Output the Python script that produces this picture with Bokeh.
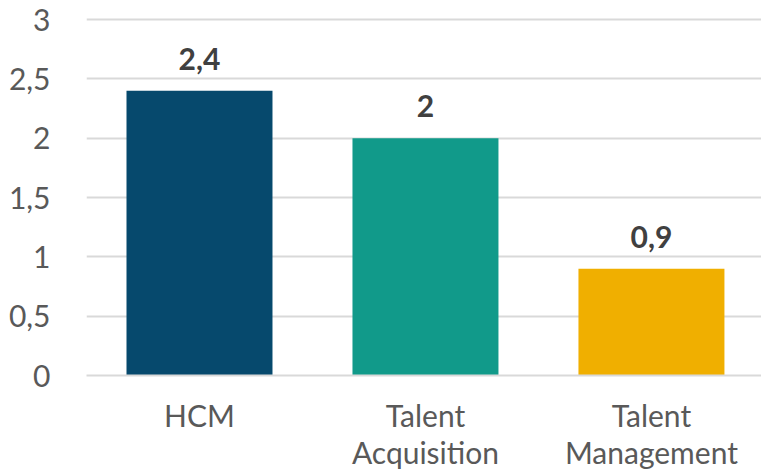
from bokeh.plotting import figure
from bokeh.models import ColumnDataSource, FixedTicker, Range1d
from bokeh.embed import file_html
from bokeh.resources import INLINE
from bokeh.core.properties import value

categories = ["HCM", "Talent\nAcquisition", "Talent\nManagement"]
values = [2.4, 2.0, 0.9]
labels = ["2,4", "2", "0,9"]
colors = ["#06496D", "#119A8A", "#F0AF00"]
y_ticks = [0, 0.5, 1, 1.5, 2, 2.5, 3]
y_tick_labels = ["0", "0,5", "1", "1,5", "2", "2,5", "3"]

xs = list(range(len(categories)))
src = ColumnDataSource(dict(x=xs, top=values, label=labels, color=colors))

p = figure(width=761, height=473, output_backend="svg", toolbar_location=None,
           x_range=Range1d(-0.5, 2.487), y_range=Range1d(0, 3.076),
           min_border_left=86, min_border_right=0, min_border_top=10, min_border_bottom=98)
p.outline_line_color = None
p.background_fill_color = "white"
p.border_fill_color = "white"

p.vbar(x="x", top="top", width=0.646, bottom=0, fill_color="color", line_color=None, source=src)
p.text(x="x", y="top", text="label", source=src, text_align="center", text_baseline="alphabetic",
       y_offset=-32, text_font=value("Lato"), text_font_style="bold",
       text_font_size="30px", text_color="#404040")

p.xgrid.grid_line_color = None
p.ygrid.grid_line_color = "#D9D9D9"
p.ygrid.grid_line_width = 2
p.ygrid.ticker = FixedTicker(ticks=y_ticks)

p.yaxis.ticker = FixedTicker(ticks=y_ticks)
p.yaxis.major_label_overrides = {t: l for t, l in zip(y_ticks, y_tick_labels)}
p.yaxis.axis_line_color = None
p.yaxis.major_tick_line_color = None
p.yaxis.minor_tick_line_color = None
p.yaxis.major_label_standoff = 30
p.yaxis.major_label_text_font = "Lato"
p.yaxis.major_label_text_font_size = "30px"
p.yaxis.major_label_text_color = "#595959"

p.xaxis.ticker = FixedTicker(ticks=xs)
p.xaxis.major_label_overrides = {x: c for x, c in zip(xs, categories)}
p.xaxis.axis_line_color = "#D9D9D9"
p.xaxis.axis_line_width = 2
p.xaxis.major_tick_line_color = None
p.xaxis.minor_tick_line_color = None
p.xaxis.major_label_standoff = 15
p.xaxis.major_label_text_font = "Lato"
p.xaxis.major_label_text_font_size = "30px"
p.xaxis.major_label_text_line_height = 1.05
p.xaxis.major_label_text_color = "#595959"

open("out.html", "w").write(file_html(p, INLINE))
